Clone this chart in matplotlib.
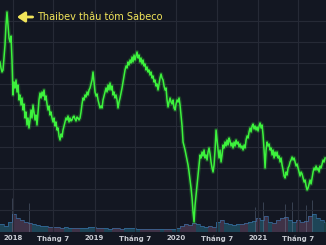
import numpy as np
import pandas as pd
import matplotlib
matplotlib.use("Agg")
import matplotlib.pyplot as plt
import matplotlib.dates as mdates

# ---- data (SAB price, thousand VND; sampled every ~4.47 days) ----
start_date = "2017-11-04"
price = [
    268, 262, 258, 260, 272, 285, 305, 318, 305, 292, 288, 294, 270,
    235, 248, 242, 250, 238, 245, 230, 235, 225, 232, 220, 226, 212,
    218, 205, 212, 202, 210, 220, 212, 225, 218, 210, 215, 205, 218,
    230, 237, 232, 238, 234, 240, 230, 234, 226, 220, 224, 215, 218,
    212, 208, 212, 204, 208, 200, 202, 194, 190, 196, 193, 200, 204,
    208, 212, 210, 214, 208, 212, 209, 210, 213, 214, 211, 209, 213,
    212, 210, 212, 218, 226, 232, 230, 235, 233, 238, 235, 240, 242,
    246, 250, 258, 248, 238, 234, 236, 230, 226, 222, 224, 222, 230,
    234, 238, 242, 238, 245, 240, 247, 240, 244, 235, 238, 232, 235,
    230, 222, 228, 232, 237, 242, 248, 254, 260, 264, 262, 268, 265,
    270, 267, 273, 268, 275, 270, 274, 278, 272, 275, 268, 272, 266,
    270, 264, 266, 260, 263, 258, 260, 255, 258, 252, 254, 248, 250,
    244, 246, 240, 246, 252, 256, 252, 250, 244, 240, 242, 230, 223,
    228, 232, 228, 226, 230, 222, 220, 226, 230, 228, 232, 225, 215,
    204, 188, 184, 180, 175, 170, 165, 158, 150, 142, 132, 118, 108,
    125, 135, 145, 154, 165, 175, 172, 178, 174, 180, 172, 175, 170,
    178, 182, 176, 168, 162, 158, 165, 180, 200, 190, 180, 172, 180,
    168, 175, 185, 182, 188, 184, 190, 185, 192, 189, 184, 187, 182,
    188, 184, 190, 186, 188, 183, 186, 182, 184, 180, 185, 182, 190,
    194, 192, 198, 202, 198, 204, 206, 201, 204, 200, 203, 199, 204,
    207, 202, 205, 195, 180, 162, 180, 188, 184, 186, 180, 182, 175,
    180, 172, 178, 174, 178, 172, 174, 168, 172, 165, 160, 154, 152,
    158, 155, 162, 164, 168, 170, 173, 170, 172, 168, 164, 166, 162,
    158, 154, 158, 156, 152, 148, 150, 144, 140, 142, 146, 150, 146,
    152, 158, 162, 160, 164, 160, 162, 158, 164, 162, 166, 170, 168,
    172,
]

# volume (thousand shares), sampled every ~17.9 days
volume = [
    80, 60, 100, 180, 140, 120, 100, 90, 80, 70,
    60, 60, 50, 50, 50, 40, 50, 40, 40, 40,
    40, 40, 50, 50, 40, 40, 40, 30, 40, 40,
    30, 40, 40, 40, 30, 30, 30, 30, 30, 30,
    30, 30, 30, 30, 40, 60, 80, 70, 90, 80,
    60, 50, 60, 50, 100, 120, 90, 80, 70, 80,
    80, 90, 100, 110, 140, 120, 160, 100, 90, 120,
    140, 150, 120, 100, 120, 100, 110, 160, 180, 140,
    120, 100,
]
spike_dates = ["2017-12-27", "2018-03-13", "2020-12-19", "2021-01-24",
               "2021-05-02", "2021-06-02", "2021-08-04", "2021-08-31"]
spike_vols = [340, 290, 250, 300, 280, 300, 270, 320]

tick_dates = ["2018-01-01", "2018-07-01", "2019-01-01", "2019-07-01",
              "2020-01-01", "2020-07-01", "2021-01-01", "2021-07-01"]
tick_labels = ["2018", "Tháng 7", "2019", "Tháng 7",
               "2020", "Tháng 7", "2021", "Tháng 7"]

annotation_text = "Thaibev thâu tóm Sabeco"

# ---- build ----
dates = pd.date_range(start_date, periods=len(price), freq="6442min")
vdates = pd.date_range(start_date, periods=len(volume), freq="25768min")

BG = "#131722"
GRID = "#262a36"
fig = plt.figure(figsize=(3.26, 2.45), dpi=100, facecolor=BG)
ax = fig.add_axes([0, 13 / 245, 1, 232 / 245])
ax.set_facecolor(BG)

# volume on twin axis
axv = ax.twinx()
axv.set_ylim(0, 2320)
pv = np.interp(mdates.date2num(vdates), mdates.date2num(dates), price)
vcolors = ["#5e2a36" if (i > 0 and pv[i] < pv[i - 1]) else "#1d4f54"
           for i in range(len(volume))]
axv.bar(vdates, volume, width=17.5, color=vcolors, alpha=0.7, align="edge", zorder=1)
axv.fill_between(vdates, volume, 0, step="post", color="#2b5d8e", alpha=0.25, lw=0, zorder=2)
axv.step(vdates, volume, where="post", color="#3a78b2", lw=0.7, alpha=0.6, zorder=3)
axv.vlines(pd.to_datetime(spike_dates), 0, spike_vols, color="#7d8fa8", lw=0.5, alpha=0.5)
axv.axis("off")

ax.set_zorder(axv.get_zorder() + 1)
ax.patch.set_visible(False)
fig.patch.set_facecolor(BG)

# price line with glow
ax.plot(dates, price, color="#3cff3c", lw=3.0, alpha=0.18, solid_joinstyle="round")
ax.plot(dates, price, color="#3df23d", lw=1.1, solid_joinstyle="round")

ax.set_ylim(98, 330)
ax.set_xlim(pd.Timestamp("2017-11-04"), pd.Timestamp("2021-11-01"))
ax.set_yticks(np.arange(120, 330, 21))
ax.set_xticks(pd.to_datetime(tick_dates))
ax.set_xticklabels(tick_labels)
ax.grid(True, color=GRID, lw=0.8)
ax.tick_params(axis="x", length=0, pad=2.5, labelsize=5, labelcolor="#c9ccd3")
ax.tick_params(axis="y", length=0, labelleft=False)
for lab in ax.get_xticklabels():
    lab.set_fontweight("bold")
for s in ax.spines.values():
    s.set_visible(False)

# annotation
ax.annotate("", xy=(pd.Timestamp("2018-01-19"), 313),
            xytext=(pd.Timestamp("2018-03-30"), 313),
            arrowprops=dict(arrowstyle="-|>,head_length=0.45,head_width=0.3",
                            color="#f2e55a", lw=2.0, shrinkA=0, shrinkB=0))
ax.text(pd.Timestamp("2018-04-18"), 313, annotation_text, color="#f2e55a",
        fontsize=7, va="center", ha="left", family="DejaVu Sans")

fig.savefig("out.png", dpi=100, facecolor=BG)
